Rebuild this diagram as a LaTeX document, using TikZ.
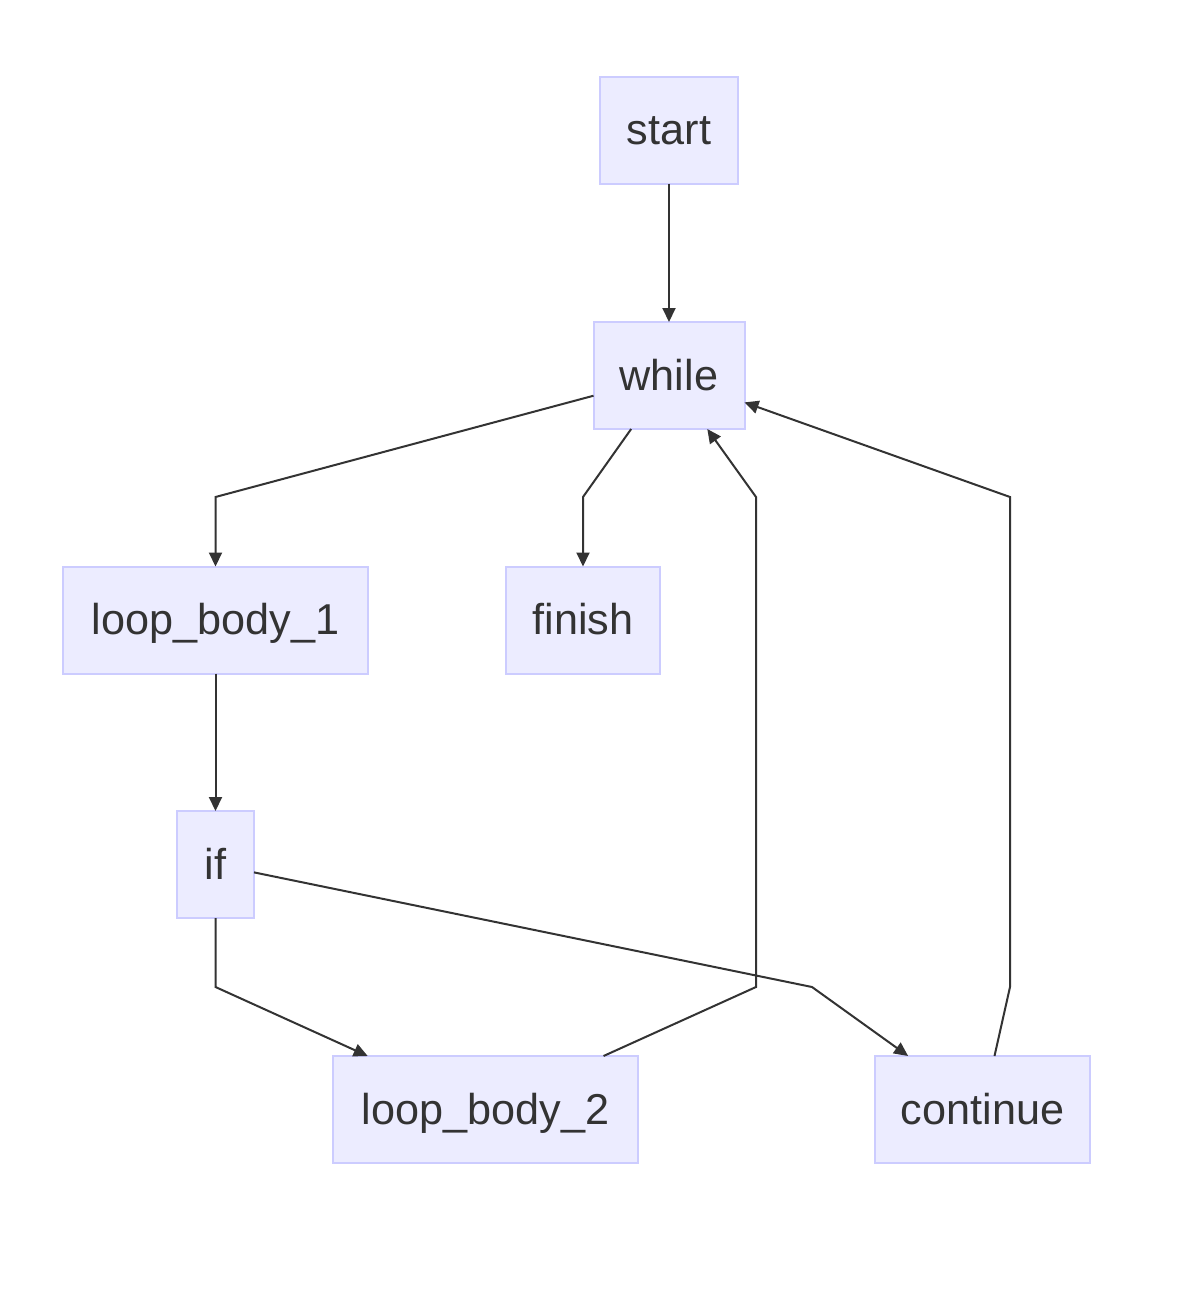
\documentclass[tikz,border=0pt]{standalone}
\usepackage{fontspec}
\setmainfont{Liberation Sans}
\usetikzlibrary{arrows.meta}
\definecolor{nodefill}{HTML}{ECECFF}
\definecolor{nodeline}{HTML}{CCCCFF}
\definecolor{ink}{HTML}{333333}
\begin{document}
\begin{tikzpicture}[x=0.5pt,y=-0.5pt,
  box/.style={draw=nodeline,fill=nodefill,line width=1pt,inner sep=0pt,outer sep=0pt,
    text=ink,font=\fontsize{21.6pt}{26pt}\selectfont,minimum height=53.5pt,
    text height=15.8pt,text depth=1.1pt},
  link/.style={draw=ink,line width=1pt,-{Triangle[length=7pt,width=6.5pt]}}]
\useasboundingbox (0,0) rectangle (1200,1296);
\node[box,minimum width=69pt] (start) at (669,130) {start};
\node[box,minimum width=75.5pt] (while) at (669,375.5) {while};
\node[box,minimum width=152.5pt] (lb1) at (215.5,620) {loop\_body\_1};
\node[box,minimum width=77pt] (finish) at (583,620) {finish};
\node[box,minimum width=38.5pt] (if) at (215.5,864.5) {if};
\node[box,minimum width=152.5pt] (lb2) at (485.5,1109.5) {loop\_body\_2};
\node[box,minimum width=107.5pt] (cont) at (982.5,1109.5) {continue};
\coordinate (b1) at (215.5,497);
\coordinate (b2) at (583,497);
\coordinate (b3) at (215.5,987);
\coordinate (b4) at (812,987);
\coordinate (b5) at (756,987);
\coordinate (b6) at (756,497);
\coordinate (b7) at (1010,987);
\coordinate (b8) at (1010,497);
\draw[link] (start) -- (while);
\draw[link] (while) -- (b1) -- (lb1);
\draw[link] (while) -- (b2) -- (finish);
\draw[link] (lb1) -- (if);
\draw[link] (if) -- (b3) -- (lb2);
\draw[link] (if) -- (b4) -- (cont);
\draw[link] (lb2) -- (b5) -- (b6) -- (while);
\draw[link] (cont) -- (b7) -- (b8) -- (while);
\end{tikzpicture}
\end{document}
